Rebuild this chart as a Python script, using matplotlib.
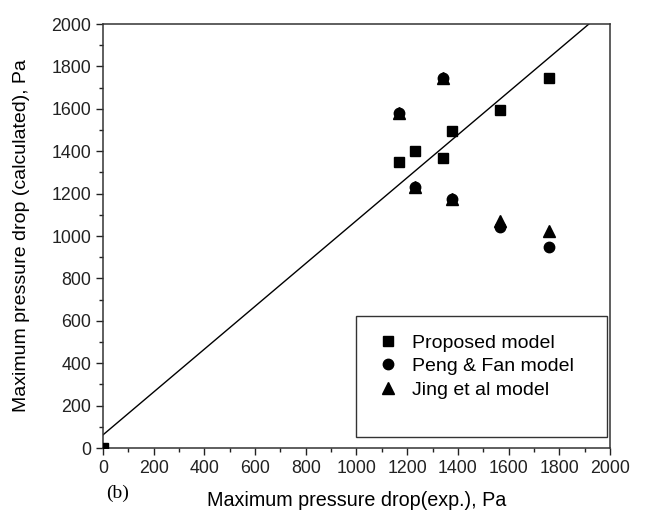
import numpy as np
import matplotlib; matplotlib.use("Agg")
import matplotlib.pyplot as plt
from matplotlib.patches import Rectangle
from matplotlib.ticker import MultipleLocator

# ── Data (Pa)
exp_prop = [0, 1168, 1232, 1343, 1375, 1567, 1759]
calc_prop = [0, 1347, 1402, 1369, 1497, 1594, 1745]

exp_other = [1168, 1343, 1232, 1375, 1567, 1759]
calc_peng = [1582, 1747, 1230, 1175, 1044, 950]
calc_jing = [1582, 1747, 1230, 1175, 1071, 1025]

# fitted line: y = a + b x
line_a, line_b = 62, 1.011
line_x = np.array([0, 2000])

plt.rcParams.update({
    "font.family": "Liberation Sans",
    "font.size": 12,
})

fig = plt.figure(figsize=(6.45, 5.14), dpi=100)
ax = fig.add_axes([0.1597, 0.1284, 0.786, 0.8249])

ax.plot(line_x, line_a + line_b * line_x, color="black", lw=1.0, zorder=2)

ax.plot(exp_prop, calc_prop, ls="none", marker="s", ms=7, color="black",
        label="Proposed model", zorder=3)
ax.plot(exp_other, calc_peng, ls="none", marker="o", ms=7.5, color="black",
        label="Peng & Fan model", zorder=3)
ax.plot(exp_other, calc_jing, ls="none", marker="^", ms=8, color="black",
        label="Jing et al model", zorder=3)

ax.set_xlim(0, 2000)
ax.set_ylim(0, 2000)
ax.xaxis.set_major_locator(MultipleLocator(200))
ax.yaxis.set_major_locator(MultipleLocator(200))
ax.xaxis.set_minor_locator(MultipleLocator(100))
ax.yaxis.set_minor_locator(MultipleLocator(100))
ax.tick_params(which="both", direction="out", top=False, right=False,
               labelsize=12.8, colors="#222222")
ax.tick_params(which="major", length=5, width=1)
ax.tick_params(which="minor", length=3, width=1)
for s in ax.spines.values():
    s.set_linewidth(1.1)
    s.set_color("#333333")

ax.set_xlabel("Maximum pressure drop(exp.), Pa", fontsize=14.2, labelpad=10)
ax.set_ylabel("Maximum pressure drop (calculated), Pa", fontsize=14, labelpad=15)

# legend box
ax.add_patch(Rectangle((0.499, 0.026), 0.495, 0.285, transform=ax.transAxes,
                       fill=False, edgecolor="#333333", lw=1.0, zorder=4))
ax.legend(loc="upper left", bbox_to_anchor=(0.505, 0.31), frameon=False,
          fontsize=14, handletextpad=0.6, labelspacing=0.3,
          handlelength=1.2, borderpad=0.4)

fig.text(0.183, 0.04, "(b)", family="Liberation Serif", fontsize=14,
         ha="center", va="center")

fig.savefig("out.png", dpi=100)
